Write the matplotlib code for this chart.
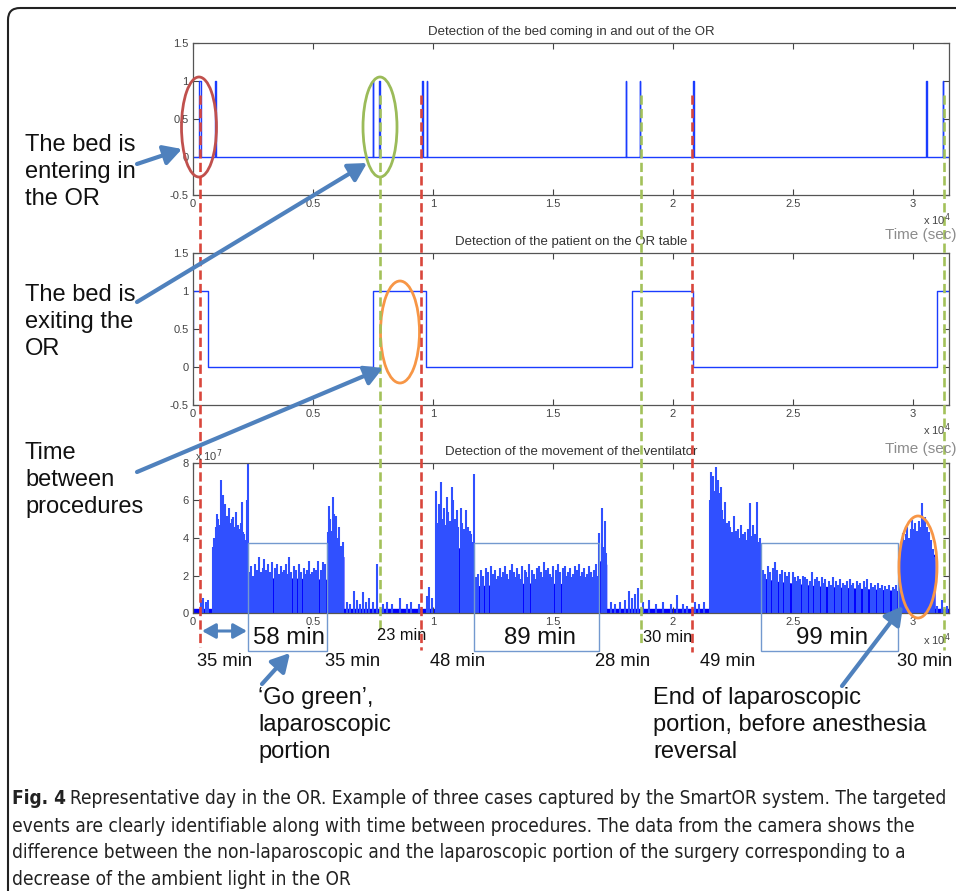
import matplotlib
matplotlib.use("Agg")
import matplotlib.pyplot as plt
from matplotlib.patches import Ellipse, Rectangle, FancyBboxPatch
from matplotlib.transforms import blended_transform_factory
from matplotlib.ticker import FuncFormatter

plt.rcParams["font.family"] = ["Liberation Sans", "DejaVu Sans"]

T_END = 31500  # sec

# bed detection: short pulses (start, end) in sec where the signal is 1
bed_pulses = [(270, 330), (930, 960), (7500, 7520), (7745, 7790), (9560, 9580),
              (9730, 9750), (18030, 18050), (18610, 18630), (20830, 20880),
              (30550, 30600), (31250, 31270)]

# patient on the OR table (signal = 1)
patient_on = [(0, 640), (7515, 9695), (18305, 20820), (31015, 31500)]

# ventilator movement, x1e7 : outline of the solid body (repeated t = jump)
vent_body_t = [0, 780, 780, 1000, 1300, 1700, 2000, 2290, 2290, 3500, 5600, 5600,
               5900, 6290, 6290, 10080, 10080, 10400, 11000, 11720, 11720, 14000,
               16930, 16930, 17240, 17240, 21500, 21500, 21900, 22300, 23670, 23670,
               24300, 26000, 29430, 29430, 29800, 30400, 30920, 30920, 31500]
vent_body_v = [0.25, 0.25, 3.1, 4.5, 4.6, 4.2, 3.7, 3.3, 1.7, 1.9, 1.8, 3.6,
               3.4, 3.0, 0.25, 0.25, 4.0, 3.9, 3.5, 3.3, 1.45, 1.6,
               1.55, 2.8, 2.6, 0.25, 0.25, 5.2, 4.8, 3.7, 3.5, 1.9,
               1.7, 1.45, 1.2, 3.0, 3.6, 3.5, 3.1, 0.25, 0.25]

# ventilator spikes (sec, x1e7)
vent_spike_t = [
    320, 420, 560, 640,
    820, 870, 900, 950, 990, 1060, 1110, 1150, 1210, 1265, 1330, 1370, 1400, 1450,
    1500, 1560, 1620, 1670, 1700, 1740, 1810, 1850, 1880, 1950, 2000, 2055, 2090,
    2120, 2180, 2230, 2260, 2290,
    2350, 2390, 2430, 2510, 2585, 2640, 2680, 2765, 2850, 2910, 2960, 3050, 3130,
    3180, 3220, 3300, 3400, 3450, 3500, 3580, 3680, 3730, 3780, 3880, 3950, 4015,
    4100, 4200, 4250, 4300, 4420, 4470, 4520, 4620, 4680, 4750, 4850, 4910, 4950,
    5050, 5130, 5180, 5220, 5330, 5380, 5430, 5520,
    5620, 5650, 5720, 5780, 5820, 5880, 5950, 6020, 6080, 6150, 6240,
    6400, 6550, 6720, 6850, 6950, 7090, 7200, 7350, 7500, 7650, 7900, 8100, 8300,
    8625, 8900, 9100, 9400, 9740, 9850, 9950,
    10125, 10180, 10250, 10320, 10390, 10460, 10520, 10570, 10640, 10700, 10790,
    10850, 10920, 10990, 11060, 11150, 11220, 11300, 11375, 11450, 11530, 11600,
    11660, 11720,
    11790, 11840, 11880, 11990, 12040, 12090, 12210, 12250, 12290, 12420, 12470,
    12510, 12590, 12650, 12710, 12790, 12860, 12920, 13010, 13090, 13150, 13220,
    13310, 13390, 13450, 13520, 13590, 13650, 13710, 13820, 13890, 13950, 14010,
    14110, 14190, 14260, 14320, 14410, 14490, 14550, 14620, 14690, 14750, 14810,
    14890, 14950, 15020, 15110, 15190, 15250, 15310, 15420, 15490, 15550, 15610,
    15690, 15750, 15820, 15910, 15960, 16010, 16090, 16150, 16210, 16290, 16350,
    16420, 16510, 16590, 16650, 16720, 16810, 16870,
    16930, 17030, 17100, 17170, 17220,
    17400, 17600, 17800, 18000, 18180, 18300, 18400, 18560, 18750, 19000, 19300,
    19600, 19900, 20150, 20400, 20600, 20900, 21100, 21300,
    21540, 21570, 21610, 21650, 21720, 21750, 21790, 21860, 21900, 21930, 21990,
    22060, 22100, 22150, 22230, 22300, 22340, 22380, 22460, 22540, 22610, 22660,
    22700, 22780, 22850, 22930, 23000, 23080, 23140, 23210, 23280, 23350, 23420,
    23510, 23580, 23640,
    23765, 23810, 23850, 23950, 24000, 24050, 24150, 24200, 24250, 24350, 24450,
    24500, 24550, 24650, 24750, 24800, 24850, 25010, 25100, 25150, 25200, 25300,
    25400, 25450, 25500, 25600, 25700, 25780, 25900, 26000, 26050, 26100, 26200,
    26280, 26350, 26500, 26580, 26650, 26800, 26870, 26950, 27100, 27170, 27250,
    27375, 27440, 27500, 27650, 27720, 27800, 27950, 28030, 28100, 28250, 28320,
    28400, 28550, 28620, 28700, 28850, 28930, 29000, 29150, 29230, 29300,
    29450, 29500, 29550, 29600, 29680, 29720, 29760, 29850, 29900, 29945, 30020,
    30060, 30100, 30180, 30250, 30300, 30360, 30420, 30500, 30540, 30580, 30660,
    30740, 30820, 30880,
    31000, 31200, 31400]
vent_spike_v = [
    0.7, 0.8, 0.6, 0.7,
    3.5, 4.0, 3.7, 4.6, 5.3, 5.0, 4.7, 7.1, 5.6, 6.3, 5.8, 4.9, 5.2, 4.9,
    5.6, 4.8, 5.0, 5.1, 4.6, 4.6, 5.4, 4.5, 4.7, 4.5, 4.8, 5.9, 4.3,
    4.2, 3.9, 4.4, 6.0, 8.0,
    2.2, 2.0, 2.5, 2.0, 2.6, 2.1, 2.3, 3.0, 2.2, 2.4, 2.9, 2.3, 2.6,
    2.1, 2.2, 2.7, 2.4, 2.0, 2.6, 2.1, 2.5, 2.2, 2.3, 2.6, 2.1, 3.0,
    2.2, 2.5, 2.1, 2.3, 2.6, 2.0, 2.2, 2.4, 2.1, 2.3, 2.8, 2.1, 2.2,
    2.4, 2.3, 2.0, 2.8, 2.3, 2.1, 2.7, 2.6,
    4.3, 5.7, 5.0, 4.4, 6.2, 5.3, 5.2, 4.0, 4.6, 3.6, 3.8,
    0.6, 0.5, 1.2, 0.7, 0.5, 1.1, 0.6, 0.8, 0.6, 2.6, 0.5, 0.6, 0.5,
    0.8, 0.5, 0.6, 0.5, 0.9, 1.4, 0.8,
    6.5, 4.8, 5.8, 7.0, 5.0, 5.6, 4.7, 6.2, 5.4, 4.9, 6.7,
    6.0, 5.0, 5.5, 4.6, 5.6, 4.8, 4.5, 5.5, 4.6, 4.4, 4.2,
    3.8, 7.4,
    1.9, 1.7, 2.1, 2.3, 1.9, 2.0, 2.4, 1.8, 2.2, 2.5, 1.9,
    2.1, 2.3, 1.8, 2.0, 2.4, 1.9, 2.2, 2.5, 2.1, 1.8, 2.3,
    2.6, 2.2, 1.9, 2.4, 2.1, 1.8, 2.5, 2.3, 2.2, 1.9, 2.6,
    2.3, 2.1, 1.8, 2.4, 2.5, 2.2, 1.9, 2.7, 2.3, 2.0, 2.4,
    2.1, 1.9, 2.5, 2.3, 2.6, 1.9, 2.2, 2.4, 2.5, 2.0, 2.2,
    2.4, 1.9, 2.1, 2.5, 1.8, 2.3, 2.6, 2.0, 2.2, 2.4, 1.9,
    2.1, 2.5, 2.2, 1.9, 2.3, 2.6, 2.0,
    4.25, 5.6, 3.5, 4.9, 3.2,
    0.6, 0.5, 0.6, 0.7, 1.2, 0.8, 1.0, 1.35, 0.6, 0.7, 0.5,
    0.6, 0.5, 0.95, 0.5, 0.4, 0.6, 0.5, 0.6,
    6.0, 7.5, 6.6, 7.3, 6.5, 6.1, 7.8, 7.1, 6.4, 6.0, 6.7,
    5.5, 5.0, 5.9, 4.8, 4.1, 4.9, 4.6, 4.3, 5.2, 4.4, 4.1,
    4.5, 4.0, 4.7, 4.2, 4.3, 3.9, 4.5, 5.85, 4.1, 4.7, 4.2,
    5.9, 3.8, 4.0,
    2.3, 2.0, 2.1, 2.5, 2.0, 2.2, 2.4, 1.9, 2.7, 2.3, 2.1,
    1.9, 2.3, 2.2, 2.0, 1.8, 2.2, 2.2, 1.9, 1.7, 2.0, 1.8,
    2.0, 1.7, 1.9, 1.8, 1.7, 2.2, 1.8, 1.9, 1.6, 1.7, 1.9,
    1.6, 1.8, 1.7, 1.5, 1.9, 1.7, 1.5, 1.8, 1.6, 1.5, 1.7,
    1.8, 1.5, 1.6, 1.7, 1.5, 1.6, 1.7, 1.4, 1.8, 1.6, 1.4,
    1.5, 1.6, 1.35, 1.5, 1.45, 1.3, 1.5, 1.4, 1.3, 1.5,
    3.3, 2.8, 3.6, 4.25, 3.9, 4.2, 4.6, 4.0, 4.5, 4.96, 4.5,
    4.2, 4.8, 4.4, 4.9, 4.6, 5.85, 5.0, 5.1, 4.5, 4.6, 4.3,
    3.9, 3.4, 3.0,
    0.4, 0.7, 0.4]

# bed in (red) / bed out (green) events, sec
event_t = [300, 7775, 9520, 18660, 20800, 31280]
event_col = ["#D9463C", "#A3C15A", "#D9463C", "#A3C15A", "#D9463C", "#A3C15A"]
event_bottom = [647, 630, 650, 643, 652, 650]   # px, where each dashed line ends

# laparoscopic ("go green") portions, sec
lap_start = [2290, 11710, 23670]
lap_end = [5580, 16920, 29380]
lap_labels = ["58 min", "89 min", "99 min"]
lap_label_x = [289, 540, 832]

# durations written under the chart: (text, x px, y px, size)
dur_labels = [("35 min", 225, 662, 13.2), ("35 min", 353, 662, 13.2),
              ("23 min", 402, 635, 11.8), ("48 min", 458, 662, 13.2),
              ("28 min", 623, 662, 13.2), ("30 min", 668, 637, 11.8),
              ("49 min", 728, 662, 13.2), ("30 min", 925, 662, 13.2)]


def steps(intervals, t_end):
    xs, ys = [0.0], [0.0]
    for a, b in intervals:
        xs += [a, a]
        ys += [0, 1]
        if b < t_end:
            xs += [b, b]
            ys += [1, 0]
        else:
            xs.append(t_end)
            ys.append(1)
    if xs[-1] < t_end:
        xs.append(t_end)
        ys.append(0)
    return xs, ys


fig = plt.figure(figsize=(9.56, 8.91), dpi=100)
W, H = 956.0, 891.0

def add_panel(top_px, bottom_px):
    return fig.add_axes([193 / W, 1 - bottom_px / H, 756 / W, (bottom_px - top_px) / H])

ax1 = add_panel(43, 195)
ax2 = add_panel(253, 405)
ax3 = add_panel(463, 613)

blue = "#1a3cff"
bx, by = steps(bed_pulses, T_END)
ax1.plot(bx, by, color=blue, lw=1.0)
px_, py_ = steps(patient_on, T_END)
ax2.plot(px_, py_, color=blue, lw=1.0)

ax3.fill_between(vent_body_t, 0, vent_body_v, color="#0000ff", lw=0)
ax3.vlines(vent_spike_t, 0, vent_spike_v, color="#3050ff", lw=1.5)

xfmt = FuncFormatter(lambda v, p: f"{v / 1e4:g}")
titles = ["Detection of the bed coming in and out of the OR",
          "Detection of the patient on the OR table",
          "Detection of the movement of the ventilator"]
for ax, ttl in zip([ax1, ax2, ax3], titles):
    ax.set_xlim(0, T_END)
    ax.set_xticks(range(0, 30001, 5000))
    ax.xaxis.set_major_formatter(xfmt)
    ax.tick_params(direction="in", top=True, right=True, length=4, width=0.8,
                   labelsize=8, colors="#444444", pad=3)
    for s in ax.spines.values():
        s.set_color("#555555")
        s.set_linewidth(0.9)
    ax.set_title(ttl, fontsize=9.5, color="#333333", pad=6)

for ax in [ax1, ax2]:
    ax.set_ylim(-0.5, 1.5)
    ax.set_yticks([-0.5, 0, 0.5, 1, 1.5])
    ax.yaxis.set_major_formatter(FuncFormatter(lambda v, p: f"{v:g}"))
ax3.set_ylim(0, 8)
ax3.set_yticks([0, 2, 4, 6, 8])

# overlay in figure pixels for the annotations
ov = fig.add_axes([0, 0, 1, 1], zorder=10)
ov.set_xlim(0, W)
ov.set_ylim(H, 0)
ov.axis("off")
ov.patch.set_alpha(0)
tr = blended_transform_factory(ax1.transData, ov.transData)

# outer frame
ov.add_patch(FancyBboxPatch((8, 8), 980, 900, boxstyle="round,pad=0,rounding_size=12",
                            fill=False, ec="#222222", lw=1.5))

# multiplier and axis labels
for yb in [220, 430, 640]:
    ov.text(923, yb, r"x 10$^4$", fontsize=8, color="#444444", va="center")
for yb in [235, 449]:
    ov.text(885, yb, "Time (sec)", fontsize=11, color="#8c8c8c", va="center")
ov.text(195, 456, r"x 10$^7$", fontsize=8, color="#444444", va="center")

# event lines
for t, c, yb in zip(event_t, event_col, event_bottom):
    ov.plot([t, t], [95, yb], transform=tr, color=c, lw=1.9, dashes=(3.5, 1.6))

# laparoscopic boxes
for a, b in zip(lap_start, lap_end):
    ov.add_patch(Rectangle((a, 543), b - a, 108, transform=tr, fill=False,
                           ec="#7399CF", lw=1.0))
for txt, x in zip(lap_labels, lap_label_x):
    ov.text(x, 638, txt, fontsize=17.3, ha="center", va="center", color="#111111")
for txt, x, y, fs in dur_labels:
    ov.text(x, y, txt, fontsize=fs, ha="center", va="center", color="#111111")

# ellipses
for (cx, cy, w, h, c) in [(199, 127, 35, 100, "#C0504D"), (380, 127, 34, 100, "#9BBB59"),
                          (400, 332, 39, 102, "#F79646"), (918, 567, 38, 102, "#F79646")]:
    ov.add_patch(Ellipse((cx, cy), w, h, fill=False, ec=c, lw=2.0))

arrow_col = "#4F81BD"
def arrow(tail, tip, style="-|>", lw=3, scale=12):
    ov.annotate("", xy=tip, xytext=tail,
                arrowprops=dict(arrowstyle=style + ",head_length=0.9,head_width=0.5",
                                color=arrow_col, lw=lw, shrinkA=0, shrinkB=0,
                                mutation_scale=scale))

arrow((137, 164), (182, 149))
arrow((137, 302), (367, 163))
arrow((137, 472), (383, 368))
arrow((202, 631), (247, 631), "<|-|>", lw=2.2, scale=9)
arrow((262, 684), (290, 653))
arrow((842, 686), (903, 606))

side = dict(fontsize=17, color="#111111", va="center", linespacing=1.27)
ov.text(25, 172, "The bed is\nentering in\nthe OR", **side)
ov.text(25, 322, "The bed is\nexiting the\nOR", **side)
ov.text(25, 480, "Time\nbetween\nprocedures", **side)
side["linespacing"] = 1.32
ov.text(258, 725, "\u2018Go green\u2019,\nlaparoscopic\nportion", **side)
ov.text(653, 725, "End of laparoscopic\nportion, before anesthesia\nreversal", **side)

# caption, fitted to the frame width
cap_font = ["DejaVu Sans"]
cap_head = "Fig. 4"
cap_first = ("Representative day in the OR. Example of three cases captured by "
             "the SmartOR system. The targeted")
cap_lines = ["events are clearly identifiable along with time between procedures. "
             "The data from the camera shows the",
             "difference between the non-laparoscopic and the laparoscopic portion "
             "of the surgery corresponding to a",
             "decrease of the ambient light in the OR"]
cap = dict(fontsize=15.5, color="#222222", va="center", family=cap_font,
           fontstretch="condensed")
t_head = ov.text(12, 799, cap_head, fontweight="bold", **cap)
t_first = ov.text(80, 799, cap_first, **cap)
t_rest = [ov.text(12, 826 + 26.7 * i, line, **cap) for i, line in enumerate(cap_lines)]

renderer = fig.canvas.get_renderer()
head_w = t_head.get_window_extent(renderer).width
first_w = t_first.get_window_extent(renderer).width
fit = (947 - 12) / (head_w + 5 + first_w)
new_fs = 15.5 * fit
for t in [t_head, t_first] + t_rest:
    t.set_fontsize(new_fs)
t_first.set_x(12 + t_head.get_window_extent(renderer).width + 5 * fit)

fig.savefig("out.png", dpi=100)
